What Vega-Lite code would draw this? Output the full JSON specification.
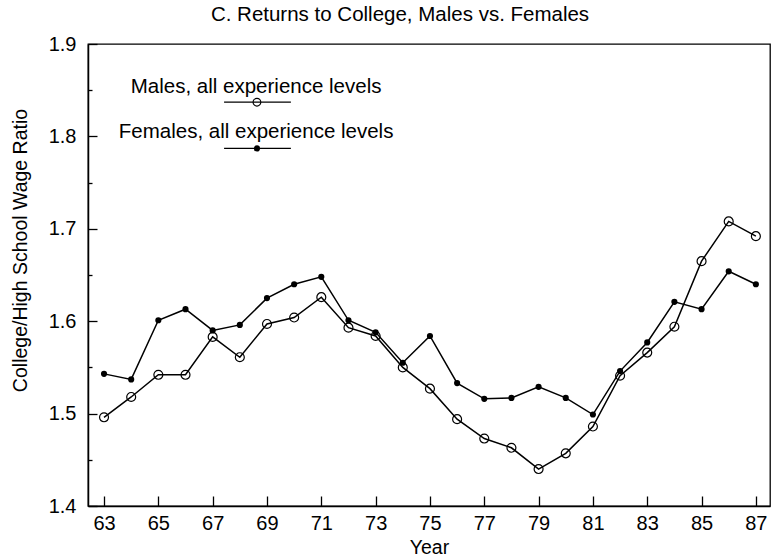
{
  "$schema": "https://vega.github.io/schema/vega-lite/v6.json",
  "autosize": {"type": "none"},
  "padding": {"left": 88, "top": 44, "right": 1, "bottom": 54},
  "width": 682,
  "height": 462,
  "background": "white",
  "config": {
    "font": "Liberation Sans",
    "view": {"stroke": "black", "strokeWidth": 1.3},
    "axis": {
      "domainColor": "black",
      "domainWidth": 1.5,
      "tickColor": "black",
      "tickWidth": 1.3,
      "labelColor": "black",
      "titleColor": "black",
      "labelFont": "Liberation Sans",
      "titleFont": "Liberation Sans",
      "labelFontSize": 20,
      "titleFontSize": 19.5,
      "titleFontWeight": "normal",
      "grid": false
    }
  },
  "title": {
    "text": "C. Returns to College, Males vs. Females",
    "font": "Liberation Sans",
    "fontSize": 20.5,
    "fontWeight": "normal",
    "color": "black",
    "anchor": "middle",
    "dx": -29,
    "offset": 9
  },
  "datasets": {
    "wages": [
      {"year": 63, "series": "Males", "ratio": 1.496},
      {"year": 64, "series": "Males", "ratio": 1.518},
      {"year": 65, "series": "Males", "ratio": 1.542},
      {"year": 66, "series": "Males", "ratio": 1.542},
      {"year": 67, "series": "Males", "ratio": 1.583},
      {"year": 68, "series": "Males", "ratio": 1.561},
      {"year": 69, "series": "Males", "ratio": 1.597},
      {"year": 70, "series": "Males", "ratio": 1.604},
      {"year": 71, "series": "Males", "ratio": 1.626},
      {"year": 72, "series": "Males", "ratio": 1.593},
      {"year": 73, "series": "Males", "ratio": 1.584},
      {"year": 74, "series": "Males", "ratio": 1.550},
      {"year": 75, "series": "Males", "ratio": 1.527},
      {"year": 76, "series": "Males", "ratio": 1.494},
      {"year": 77, "series": "Males", "ratio": 1.473},
      {"year": 78, "series": "Males", "ratio": 1.463},
      {"year": 79, "series": "Males", "ratio": 1.440},
      {"year": 80, "series": "Males", "ratio": 1.457},
      {"year": 81, "series": "Males", "ratio": 1.486},
      {"year": 82, "series": "Males", "ratio": 1.541},
      {"year": 83, "series": "Males", "ratio": 1.566},
      {"year": 84, "series": "Males", "ratio": 1.594},
      {"year": 85, "series": "Males", "ratio": 1.665},
      {"year": 86, "series": "Males", "ratio": 1.708},
      {"year": 87, "series": "Males", "ratio": 1.692},
      {"year": 63, "series": "Females", "ratio": 1.543},
      {"year": 64, "series": "Females", "ratio": 1.537},
      {"year": 65, "series": "Females", "ratio": 1.601},
      {"year": 66, "series": "Females", "ratio": 1.613},
      {"year": 67, "series": "Females", "ratio": 1.590},
      {"year": 68, "series": "Females", "ratio": 1.596},
      {"year": 69, "series": "Females", "ratio": 1.625},
      {"year": 70, "series": "Females", "ratio": 1.640},
      {"year": 71, "series": "Females", "ratio": 1.648},
      {"year": 72, "series": "Females", "ratio": 1.601},
      {"year": 73, "series": "Females", "ratio": 1.588},
      {"year": 74, "series": "Females", "ratio": 1.555},
      {"year": 75, "series": "Females", "ratio": 1.584},
      {"year": 76, "series": "Females", "ratio": 1.533},
      {"year": 77, "series": "Females", "ratio": 1.516},
      {"year": 78, "series": "Females", "ratio": 1.517},
      {"year": 79, "series": "Females", "ratio": 1.529},
      {"year": 80, "series": "Females", "ratio": 1.517},
      {"year": 81, "series": "Females", "ratio": 1.499},
      {"year": 82, "series": "Females", "ratio": 1.546},
      {"year": 83, "series": "Females", "ratio": 1.577},
      {"year": 84, "series": "Females", "ratio": 1.621},
      {"year": 85, "series": "Females", "ratio": 1.613},
      {"year": 86, "series": "Females", "ratio": 1.654},
      {"year": 87, "series": "Females", "ratio": 1.640}
    ],
    "seriesLabels": [
      {"series": "Males", "label": "Males, all experience levels"},
      {"series": "Females", "label": "Females, all experience levels"}
    ]
  },
  "layer": [
    {
      "data": {"name": "wages"},
      "mark": {"type": "line", "color": "black", "strokeWidth": 1.5},
      "encoding": {
        "x": {
          "field": "year",
          "type": "quantitative",
          "scale": {"domain": [62.41, 87.52], "nice": false, "zero": false},
          "axis": {
            "title": "Year",
            "values": [63, 65, 67, 69, 71, 73, 75, 77, 79, 81, 83, 85, 87],
            "format": "d",
            "tickSize": -10,
            "labelPadding": 17,
            "titlePadding": 5
          }
        },
        "y": {
          "field": "ratio",
          "type": "quantitative",
          "scale": {"domain": [1.4, 1.9], "nice": false, "zero": false},
          "axis": {
            "title": "College/High School Wage Ratio",
            "values": [1.4, 1.45, 1.5, 1.55, 1.6, 1.65, 1.7, 1.75, 1.8, 1.85, 1.9],
            "labelExpr": "abs(datum.value * 10 - round(datum.value * 10)) > 0.01 ? '' : format(datum.value, '.1f')",
            "tickSize": {"condition": {"test": "abs(datum.value * 10 - round(datum.value * 10)) > 0.01", "value": -4}, "value": -9},
            "labelPadding": 21,
            "titleY": 206,
            "titlePadding": 18
          }
        },
        "detail": {"field": "series"}
      }
    },
    {
      "data": {"name": "wages"},
      "transform": [{"filter": "datum.series === 'Males'"}],
      "mark": {"type": "point", "shape": "circle", "filled": false, "color": "black", "strokeWidth": 1.2, "size": 80, "opacity": 1},
      "encoding": {
        "x": {"field": "year", "type": "quantitative"},
        "y": {"field": "ratio", "type": "quantitative"}
      }
    },
    {
      "data": {"name": "wages"},
      "transform": [{"filter": "datum.series === 'Females'"}],
      "mark": {"type": "point", "shape": "circle", "filled": true, "color": "black", "size": 38, "opacity": 1},
      "encoding": {
        "x": {"field": "year", "type": "quantitative"},
        "y": {"field": "ratio", "type": "quantitative"}
      }
    },
    {
      "data": {"name": "seriesLabels"},
      "transform": [{"filter": "datum.series === 'Males'"}],
      "mark": {"type": "text", "fontSize": 20.5, "color": "black", "align": "center", "baseline": "middle"},
      "encoding": {"x": {"datum": 68.6}, "y": {"datum": 1.853}, "text": {"field": "label"}}
    },
    {
      "data": {"name": "seriesLabels"},
      "transform": [{"filter": "datum.series === 'Males'"}],
      "mark": {"type": "rule", "color": "black", "strokeWidth": 1.3},
      "encoding": {"x": {"datum": 67.42}, "x2": {"datum": 69.88}, "y": {"datum": 1.837}}
    },
    {
      "data": {"name": "seriesLabels"},
      "transform": [{"filter": "datum.series === 'Males'"}],
      "mark": {"type": "point", "shape": "circle", "filled": false, "color": "black", "strokeWidth": 1.1, "size": 60, "opacity": 1},
      "encoding": {"x": {"datum": 68.63}, "y": {"datum": 1.837}}
    },
    {
      "data": {"name": "seriesLabels"},
      "transform": [{"filter": "datum.series === 'Females'"}],
      "mark": {"type": "text", "fontSize": 20.5, "color": "black", "align": "center", "baseline": "middle"},
      "encoding": {"x": {"datum": 68.6}, "y": {"datum": 1.805}, "text": {"field": "label"}}
    },
    {
      "data": {"name": "seriesLabels"},
      "transform": [{"filter": "datum.series === 'Females'"}],
      "mark": {"type": "rule", "color": "black", "strokeWidth": 1.3},
      "encoding": {"x": {"datum": 67.42}, "x2": {"datum": 69.88}, "y": {"datum": 1.787}}
    },
    {
      "data": {"name": "seriesLabels"},
      "transform": [{"filter": "datum.series === 'Females'"}],
      "mark": {"type": "point", "shape": "circle", "filled": true, "color": "black", "size": 38, "opacity": 1},
      "encoding": {"x": {"datum": 68.63}, "y": {"datum": 1.787}}
    }
  ]
}
